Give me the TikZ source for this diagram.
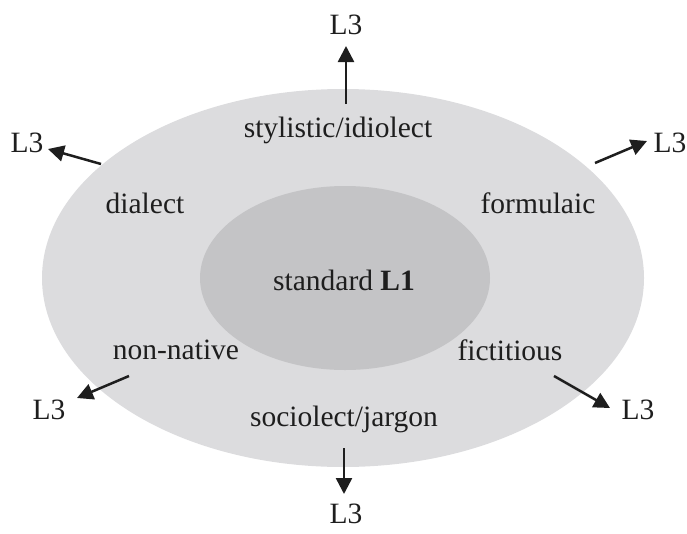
\documentclass[tikz,border=0pt]{standalone}
\usepackage{fontspec}
\setmainfont{Liberation Serif}
\usetikzlibrary{arrows.meta}
\definecolor{outerfill}{HTML}{DCDCDE}
\definecolor{innerfill}{HTML}{C4C4C6}
\definecolor{ink}{HTML}{1E1E1E}
\tikzset{
  lbl/.style={inner sep=0pt, text=ink, font=\fontsize{29.5}{34}\selectfont, anchor=center},
  outarrow/.style={draw=ink, line width=2.5pt, -{Triangle[length=16pt,width=16pt]}},
}
\begin{document}
\begin{tikzpicture}[x=1pt,y=-1pt]
\useasboundingbox (0,0) rectangle (687,533);
\fill[outerfill] (343,278) ellipse [x radius=301, y radius=189];
\fill[innerfill] (345,278) ellipse [x radius=145, y radius=92];

\node[lbl] (center) at (344,280) {standard \textbf{L1}};
\node[lbl] (styl) at (338,130) {stylistic/idiolect};
\node[lbl] (dial) at (145,203) {dialect};
\node[lbl] (form) at (538,203) {formulaic};
\node[lbl] (nonn) at (176,350) {non-native};
\node[lbl] (fict) at (510,350) {fictitious};
\node[lbl] (soc) at (344,419) {sociolect/jargon};

\node[lbl] (l3t) at (346,25) {L3};
\node[lbl] (l3l) at (27,143) {L3};
\node[lbl] (l3r) at (670,143) {L3};
\node[lbl] (l3ll) at (49,410) {L3};
\node[lbl] (l3lr) at (638,410) {L3};
\node[lbl] (l3b) at (346,514) {L3};

\coordinate (st) at (346,104);  \coordinate (et) at (346,46);
\coordinate (sl) at (101,164);  \coordinate (el) at (48,149);
\coordinate (sr) at (595,163);  \coordinate (er) at (647,141);
\coordinate (sll) at (129,376); \coordinate (ell) at (77,398);
\coordinate (slr) at (554,376); \coordinate (elr) at (610,408);
\coordinate (sb) at (344,448);  \coordinate (eb) at (344,494);

\draw[outarrow] (st) -- (et);
\draw[outarrow] (sl) -- (el);
\draw[outarrow] (sr) -- (er);
\draw[outarrow] (sll) -- (ell);
\draw[outarrow] (slr) -- (elr);
\draw[outarrow] (sb) -- (eb);
\end{tikzpicture}
\end{document}
